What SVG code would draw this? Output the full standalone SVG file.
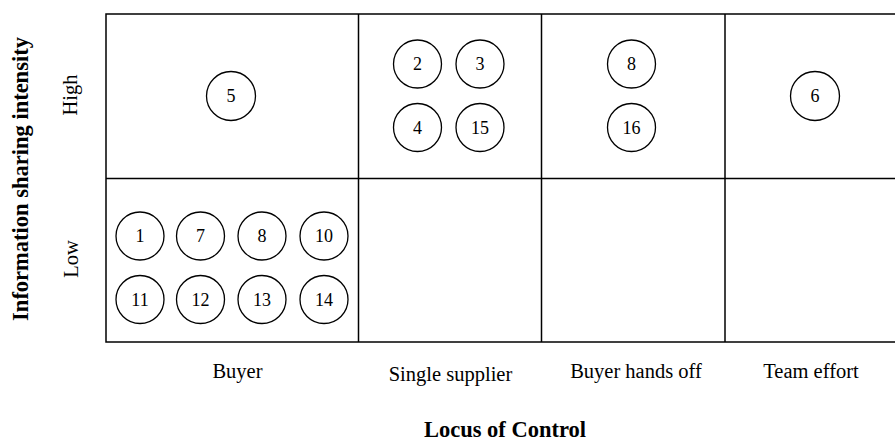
<svg xmlns="http://www.w3.org/2000/svg" width="895" height="441" viewBox="0 0 895 441">
  <style>
    .grid { fill: none; stroke: #000; stroke-width: 1.5; }
    .node circle { fill: #fff; stroke: #000; stroke-width: 1.3; }
    .node text { font-family: "Liberation Serif", "Times New Roman", serif; font-size: 18px; text-anchor: middle; dominant-baseline: central; fill: #000; }
    .lbl { font-family: "Liberation Serif", "Times New Roman", serif; font-size: 20.5px; text-anchor: middle; fill: #000; }
    .axis { font-family: "Liberation Serif", "Times New Roman", serif; font-size: 22.5px; font-weight: bold; text-anchor: middle; fill: #000; }
  </style>
  <rect width="895" height="441" fill="#fff"/>

  <!-- matrix grid -->
  <g id="grid" class="grid">
    <rect x="106" y="14" width="790" height="328"/>
    <line x1="106" y1="178.5" x2="896" y2="178.5"/>
    <line x1="358.5" y1="14" x2="358.5" y2="342"/>
    <line x1="541.5" y1="14" x2="541.5" y2="342"/>
    <line x1="725" y1="14" x2="725" y2="342"/>
  </g>

  <!-- row labels -->
  <text class="lbl" transform="translate(76.5,95) rotate(-90)">High</text>
  <text class="lbl" transform="translate(77.5,259) rotate(-90)">Low</text>
  <text class="axis" transform="translate(27.5,179) rotate(-90)">Information sharing intensity</text>

  <!-- column labels -->
  <text class="lbl" x="237.5" y="378">Buyer</text>
  <text class="lbl" x="450.5" y="381">Single supplier</text>
  <text class="lbl" x="636" y="378">Buyer hands off</text>
  <text class="lbl" x="811" y="378">Team effort</text>
  <text class="axis" x="505" y="437">Locus of Control</text>

  <!-- high / buyer -->
  <g id="n5-high" class="node"><circle cx="231" cy="96" r="24.5"/><text x="231" y="96">5</text></g>
  <!-- high / single supplier -->
  <g id="n2-high" class="node"><circle cx="417.5" cy="64" r="24"/><text x="417.5" y="64">2</text></g>
  <g id="n3-high" class="node"><circle cx="480" cy="64" r="24"/><text x="480" y="64">3</text></g>
  <g id="n4-high" class="node"><circle cx="417.5" cy="127.5" r="24"/><text x="417.5" y="127.5">4</text></g>
  <g id="n15-high" class="node"><circle cx="480" cy="127.5" r="24"/><text x="480" y="127.5">15</text></g>
  <!-- high / buyer hands off -->
  <g id="n8-high" class="node"><circle cx="631.5" cy="64" r="24"/><text x="631.5" y="64">8</text></g>
  <g id="n16-high" class="node"><circle cx="631.5" cy="127.5" r="24"/><text x="631.5" y="127.5">16</text></g>
  <!-- high / team effort -->
  <g id="n6-high" class="node"><circle cx="815" cy="96" r="24.5"/><text x="815" y="96">6</text></g>

  <!-- low / buyer -->
  <g id="n1-low" class="node"><circle cx="140" cy="236" r="24"/><text x="140" y="236">1</text></g>
  <g id="n7-low" class="node"><circle cx="200.5" cy="236" r="24"/><text x="200.5" y="236">7</text></g>
  <g id="n8-low" class="node"><circle cx="262" cy="236" r="24"/><text x="262" y="236">8</text></g>
  <g id="n10-low" class="node"><circle cx="324" cy="236" r="24"/><text x="324" y="236">10</text></g>
  <g id="n11-low" class="node"><circle cx="140" cy="299.5" r="24"/><text x="140" y="299.5">11</text></g>
  <g id="n12-low" class="node"><circle cx="200.5" cy="299.5" r="24"/><text x="200.5" y="299.5">12</text></g>
  <g id="n13-low" class="node"><circle cx="262" cy="299.5" r="24"/><text x="262" y="299.5">13</text></g>
  <g id="n14-low" class="node"><circle cx="324" cy="299.5" r="24"/><text x="324" y="299.5">14</text></g>
</svg>
